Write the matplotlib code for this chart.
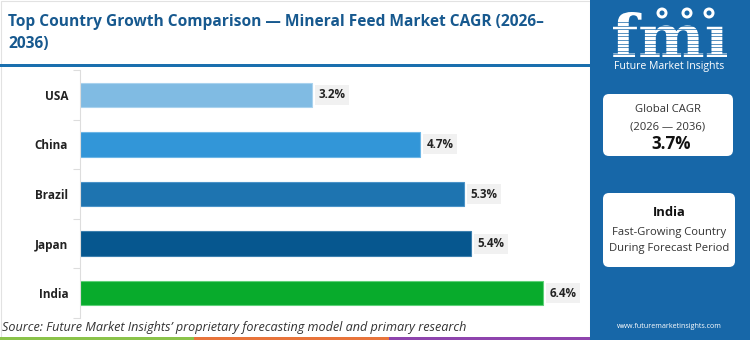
import numpy as np
import matplotlib.pyplot as plt
from matplotlib.patches import Rectangle, FancyBboxPatch, Circle, Arc, PathPatch
from matplotlib.textpath import TextPath
from matplotlib.font_manager import FontProperties
from matplotlib.transforms import Affine2D
from matplotlib.ticker import FixedLocator

countries = ["USA", "China", "Brazil", "Japan", "India"]
cagr = [3.2, 4.7, 5.3, 5.4, 6.4]
bar_colors = ["#80bbe3", "#3296d8", "#1e74b0", "#06578f", "#08ab2c"]
edge_colors = ["#a9d2ee", "#6cb6e6", "#4b93c8", "#3c7fae", "#5fd078"]

title = "Top Country Growth Comparison \u2014 Mineral Feed Market CAGR (2026\u2013\n2036)"
source = "Source: Future Market Insights\u2019 proprietary forecasting model and primary research"
global_cagr = "3.7%"
global_period = "(2026 \u2014 2036)"
top_country = "India"

W, H = 750, 340
FONT = "Open Sans"
PANEL = "#1767a8"
TITLE_C = "#17598f"


def pt(px):
    return px * 0.72


fig = plt.figure(figsize=(7.5, 3.4), dpi=100)

# full-figure overlay in pixel coordinates for decorations
bg = fig.add_axes([0, 0, 1, 1], zorder=0)
bg.set_xlim(0, W)
bg.set_ylim(H, 0)
bg.axis("off")

bg.add_patch(Rectangle((0.5, 0.5), 589, 338, fc="white", ec="#e2e2e2", lw=0.8))
bg.text(8, 33, title, fontsize=pt(15.5), fontweight="bold", color=TITLE_C,
        family=FONT, ha="left", va="center", linespacing=1.45)
bg.add_patch(Rectangle((0, 63.5), 590, 3, fc="#1a6fae", ec="none"))

bg.text(2, 328, source, fontsize=pt(12.6), style="italic", color="#333333",
        family=FONT, ha="left", va="center")

# bottom colour stripe
for x0, x1, c in [(0, 194, "#8bc34a"), (194, 389, "#e8743b"), (389, 590, "#8e44ad")]:
    bg.add_patch(Rectangle((x0, 336.5), x1 - x0, 3.5, fc=c, ec="none"))

# right panel
bg.add_patch(Rectangle((590, 0), 160, H, fc=PANEL, ec="none"))

# logo: stretched "fmi" letters with stripes
tp = TextPath((0, 0), "fm\u0131", size=1, prop=FontProperties(family="DejaVu Serif", weight="bold"))
ext = tp.get_extents()
sx = (727 - 613) / ext.width
sy = (57 - 12) / ext.y1
logo = Affine2D().translate(-ext.x0, 0).scale(sx, -sy).translate(613, 57).transform_path(tp)
bg.add_patch(PathPatch(logo, fc="white", ec="none"))
for yy in np.arange(22, 57, 3.6):
    bg.plot([610, 730], [yy, yy], color=PANEL, lw=0.5)
for cx in [662, 687, 709]:
    bg.add_patch(Circle((cx, 13), 5.5, fc="white", ec="none"))
    bg.add_patch(Circle((cx, 13), 2.5, fc=PANEL, ec="none"))
bg.add_patch(Arc((697, 6), 56, 30, theta1=200, theta2=345, color="white", lw=1.5))
bg.text(669, 66, "Future Market Insights", fontsize=pt(10.5), color="white",
        family=FONT, ha="center", va="center")

# info boxes
bg.add_patch(FancyBboxPatch((606, 97), 124, 56, boxstyle="round,pad=3,rounding_size=6",
                            fc="white", ec="none"))
bg.text(668, 110, "Global CAGR", fontsize=pt(11.2), color="#333333", family=FONT,
        ha="center", va="center")
bg.text(668, 127, global_period, fontsize=pt(11.2), color="#333333", family=FONT,
        ha="center", va="center")
bg.text(671, 144, global_cagr, fontsize=pt(17), fontweight="bold", color="#111111",
        family=FONT, ha="center", va="center")

bg.add_patch(FancyBboxPatch((606, 196), 126, 68, boxstyle="round,pad=3,rounding_size=6",
                            fc="white", ec="none"))
bg.text(669, 212, top_country, fontsize=pt(13), fontweight="bold", color="#111111",
        family=FONT, ha="center", va="center")
bg.text(669, 233, "Fast-Growing Country", fontsize=pt(11.3), color="#333333",
        family=FONT, ha="center", va="center")
bg.text(669, 249, "During Forecast Period", fontsize=pt(11.3), color="#333333",
        family=FONT, ha="center", va="center")

bg.text(669, 327, "www.futuremarketinsights.com", fontsize=pt(7.2), color="white",
        family=FONT, ha="center", va="center")

# bar chart
left, right, top, bottom = 80, 580, 70, 318
ax = fig.add_axes([left / W, 1 - bottom / H, (right - left) / W, (bottom - top) / H], zorder=1)
ax.patch.set_alpha(0)

y = np.arange(len(countries))
ax.barh(y, cagr, height=0.49, color=bar_colors, edgecolor=edge_colors, linewidth=0.8)
ax.set_xlim(0, (right - left) / 72.4)
ax.set_ylim(len(countries) - 0.5, -0.5)

for yi, v in zip(y, cagr):
    ax.annotate(f"{v:.1f}%", (v, yi), xytext=(4.6, 0), textcoords="offset points",
                ha="left", va="center", fontsize=pt(11.6), fontweight="bold",
                color="#222222", family=FONT,
                bbox=dict(boxstyle="square,pad=0.3", fc="#f1f1f1", ec="none"))

ax.set_yticks(y)
ax.set_yticklabels(countries, fontsize=pt(11.8), fontweight="bold", color="#222222", family=FONT)
ax.yaxis.set_minor_locator(FixedLocator(np.arange(-0.5, len(countries), 1.0)))
ax.tick_params(axis="y", which="major", length=0, pad=8.5)
ax.tick_params(axis="y", which="minor", length=5, color="#dddddd", width=0.8)
ax.set_xticks([])
for s in ["top", "right", "bottom"]:
    ax.spines[s].set_visible(False)
ax.spines["left"].set_color("#dddddd")
ax.spines["left"].set_linewidth(0.8)

fig.savefig("out.png", dpi=100)
